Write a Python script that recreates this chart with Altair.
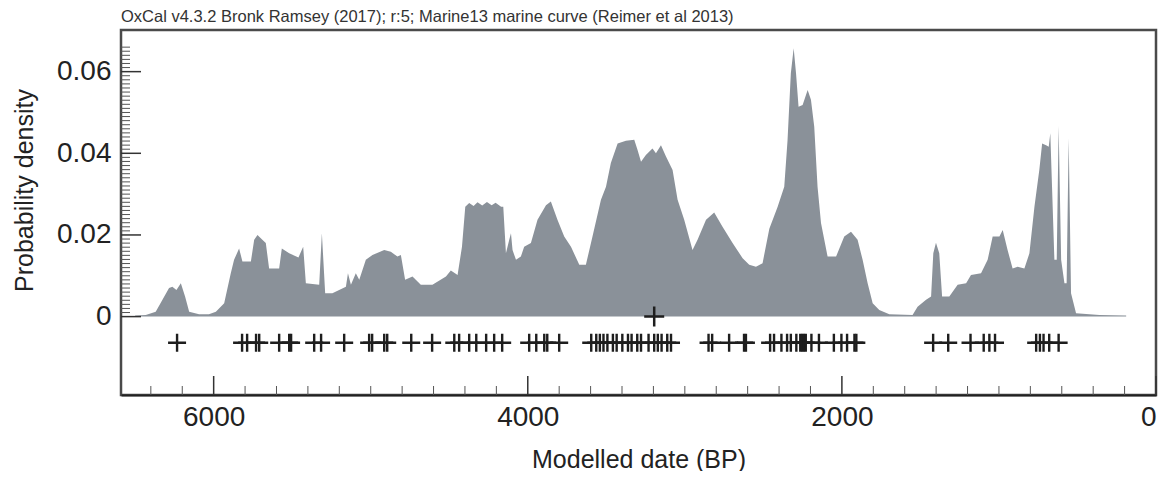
import altair as alt
import pandas as pd

TITLE = "OxCal v4.3.2 Bronk Ramsey (2017); r:5; Marine13 marine curve (Reimer et al 2013)"

# Summed probability distribution (modelled date BP, probability density)
years = [6500, 6432, 6369, 6326, 6284, 6263, 6237, 6209, 6182, 6156, 6093, 6030,
         5986, 5933, 5891, 5870, 5838, 5817, 5763, 5742, 5721, 5690, 5668, 5647,
         5583, 5566, 5519, 5460, 5430, 5413, 5328, 5311, 5290, 5244, 5158, 5145,
         5126, 5095, 5073, 5031, 4989, 4914, 4872, 4830, 4808, 4781, 4734, 4681,
         4607, 4521, 4490, 4447, 4419, 4398, 4373, 4345, 4320, 4290, 4260, 4230,
         4205, 4170, 4156, 4139, 4118, 4107, 4097, 4075, 4044, 4023, 3980, 3938,
         3884, 3853, 3811, 3768, 3725, 3672, 3630, 3588, 3534, 3502, 3471, 3428,
         3375, 3322, 3301, 3279, 3248, 3206, 3184, 3152, 3120, 3078, 3046, 3004,
         2951, 2919, 2865, 2813, 2760, 2696, 2632, 2590, 2547, 2505, 2462, 2409,
         2367, 2346, 2325, 2307, 2292, 2276, 2250, 2218, 2197, 2176, 2155, 2133,
         2091, 2037, 1985, 1942, 1900, 1868, 1836, 1804, 1762, 1698, 1550, 1518,
         1464, 1432, 1418, 1401, 1380, 1362, 1316, 1263, 1209, 1178, 1114, 1072,
         1040, 997, 976, 945, 913, 881, 838, 806, 774, 743, 725, 700,
         683, 673, 662, 647, 632, 620, 604, 583, 569, 556, 541, 509,
         360, 190]
density = [0.0003, 0.0004, 0.0012, 0.0041, 0.0070, 0.0073, 0.0065, 0.0082, 0.0049, 0.0012, 0.0006, 0.0006,
           0.0012, 0.0033, 0.0106, 0.0139, 0.0167, 0.0135, 0.0135, 0.0188, 0.0200, 0.0188, 0.0180, 0.0118,
           0.0118, 0.0167, 0.0155, 0.0145, 0.0171, 0.0082, 0.0078, 0.0204, 0.0057, 0.0057, 0.0073, 0.0106,
           0.0078, 0.0106, 0.0090, 0.0139, 0.0151, 0.0163, 0.0159, 0.0147, 0.0151, 0.0090, 0.0098, 0.0078,
           0.0078, 0.0098, 0.0113, 0.0102, 0.0171, 0.0269, 0.0278, 0.0271, 0.0280, 0.0272, 0.0281, 0.0273,
           0.0279, 0.0269, 0.0269, 0.0155, 0.0188, 0.0204, 0.0163, 0.0139, 0.0147, 0.0171, 0.0180, 0.0237,
           0.0273, 0.0282, 0.0237, 0.0196, 0.0171, 0.0127, 0.0127, 0.0196, 0.0286, 0.0318, 0.0376, 0.0424,
           0.0431, 0.0433, 0.0408, 0.0379, 0.0396, 0.0412, 0.0400, 0.0420, 0.0392, 0.0359, 0.0286, 0.0237,
           0.0163, 0.0188, 0.0237, 0.0255, 0.0220, 0.0180, 0.0143, 0.0127, 0.0122, 0.0131, 0.0215, 0.0269,
           0.0318, 0.0432, 0.0596, 0.0657, 0.0596, 0.0514, 0.0518, 0.0555, 0.0531, 0.0465, 0.0318, 0.0229,
           0.0147, 0.0147, 0.0196, 0.0208, 0.0188, 0.0139, 0.0082, 0.0033, 0.0016, 0.0006, 0.0004, 0.0024,
           0.0041, 0.0049, 0.0155, 0.0181, 0.0155, 0.0049, 0.0049, 0.0078, 0.0082, 0.0102, 0.0106, 0.0139,
           0.0196, 0.0196, 0.0212, 0.0163, 0.0118, 0.0122, 0.0118, 0.0155, 0.0269, 0.0359, 0.0424, 0.0420,
           0.0416, 0.0449, 0.0318, 0.0139, 0.0139, 0.0467, 0.0139, 0.0082, 0.0082, 0.0437, 0.0057, 0.0008,
           0.0004, 0.0003]

# Individual modelled dates (crosses) and the overall marker
cross_years = [6233, 5819, 5787, 5730, 5710, 5583, 5519, 5507, 5360, 5316, 5169,
               5010, 4991, 4914, 4895, 4742, 4609, 4468, 4437, 4373, 4328, 4265,
               4214, 4163, 3991, 3946, 3895, 3876, 3800, 3596, 3564, 3541, 3518,
               3493, 3458, 3434, 3398, 3362, 3339, 3303, 3279, 3231, 3195, 3172,
               3148, 3112, 3088, 2849, 2826, 2718, 2623, 2611, 2457, 2432, 2385,
               2349, 2325, 2290, 2265, 2253, 2242, 2230, 2194, 2146, 2051, 2003,
               1967, 1920, 1908, 1419, 1323, 1181, 1097, 1061, 1025, 763, 739,
               716, 680, 620]
cross_level = -0.0064
overall_year = [3195]
overall_level = [0.0]

x_major = [6000, 4000, 2000, 0]
x_minor = [6400, 6200, 5800, 5600, 5400, 5200, 5000, 4800, 4600, 4400, 4200,
           3800, 3600, 3400, 3200, 3000, 2800, 2600, 2400, 2200,
           1800, 1600, 1400, 1200, 1000, 800, 600, 400, 200]
y_major = [0, 0.02, 0.04, 0.06]
y_minor = [k / 1000 for k in range(1, 67) if k % 20 != 0]

W, H = 1035, 365
FONT = "Liberation Sans"
xs = alt.Scale(domain=[0, 6590], reverse=True, nice=False, zero=False)
ys = alt.Scale(domain=[-0.0192, 0.0702], nice=False, zero=False)

xaxis = alt.Axis(
    values=x_major, format="d", title="Modelled date (BP)",
    ticks=False, grid=False, domain=True, domainColor="#222",
    domainWidth=2, labelFontSize=28, labelFont=FONT, labelColor="#222",
    labelPadding=8, titleFontSize=25, titleFont=FONT, titleFontWeight="normal",
    titleColor="#222", titleX=W / 2, titleY=64, titleAlign="center",
    titleBaseline="middle")
yaxis = alt.Axis(
    values=y_major, labelExpr="datum.value == 0 ? '0' : format(datum.value, '.2f')",
    title="Probability density", ticks=False, grid=False,
    domain=False, labelFontSize=28, labelFont=FONT, labelColor="#222",
    labelPadding=10, titleFontSize=25, titleFont=FONT, titleFontWeight="normal",
    titleColor="#222", titleX=-97, titleY=160, titleAlign="center",
    titleBaseline="middle")

area = alt.Chart(pd.DataFrame({"year": years, "p": density})).mark_area(
    color="#8a9199", interpolate="linear", opacity=1
).encode(
    x=alt.X("year:Q", scale=xs, axis=xaxis),
    y=alt.Y("p:Q", scale=ys, axis=yaxis),
    y2=alt.datum(0),
)

cross_shape = "M-1,0L1,0M0,-1L0,1"
crosses = alt.Chart(pd.DataFrame({"year": cross_years,
                                  "level": [cross_level] * len(cross_years)})).mark_point(
    shape=cross_shape, filled=False, stroke="#1e1e1e", strokeWidth=2.4, size=324, opacity=1
).encode(x=alt.X("year:Q", scale=xs, axis=xaxis), y=alt.Y("level:Q", scale=ys, axis=yaxis))

overall = alt.Chart(pd.DataFrame({"year": overall_year, "level": overall_level})).mark_point(
    shape=cross_shape, filled=False, stroke="#1e1e1e", strokeWidth=2.5, size=400, opacity=1
).encode(x=alt.X("year:Q", scale=xs, axis=xaxis), y=alt.Y("level:Q", scale=ys, axis=yaxis))

xmaj = alt.Chart(pd.DataFrame({"year": x_major})).mark_rule(color="#333", strokeWidth=1.5).encode(
    x=alt.X("year:Q", scale=xs, axis=xaxis), y=alt.value(H), y2=alt.value(H - 19))
xmin = alt.Chart(pd.DataFrame({"year": x_minor})).mark_rule(color="#555", strokeWidth=1).encode(
    x=alt.X("year:Q", scale=xs, axis=xaxis), y=alt.value(H), y2=alt.value(H - 9))
ymaj = alt.Chart(pd.DataFrame({"p": y_major})).mark_rule(color="#333", strokeWidth=1.5).encode(
    y=alt.Y("p:Q", scale=ys, axis=yaxis), x=alt.value(0), x2=alt.value(20))
ymin = alt.Chart(pd.DataFrame({"p": y_minor})).mark_rule(color="#555", strokeWidth=1).encode(
    y=alt.Y("p:Q", scale=ys, axis=yaxis), x=alt.value(0), x2=alt.value(9))

chart = alt.layer(area, xmin, xmaj, ymin, ymaj, crosses, overall).properties(
    width=W, height=H,
    autosize="none",
    padding={"left": 113, "top": 22, "right": 2, "bottom": 76},
    title=alt.TitleParams(TITLE, anchor="start", frame="group", fontSize=16.5,
                          font=FONT, fontWeight="normal", color="#333", offset=5),
).configure_view(stroke="#4a4a4a", strokeWidth=2.5)

chart.save("out.html", embed_options={"renderer": "svg", "actions": False})
